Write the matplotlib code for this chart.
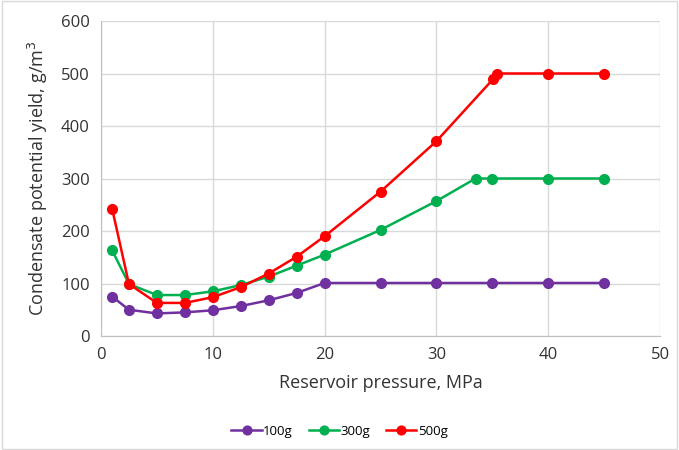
import numpy as np
import matplotlib
matplotlib.use("Agg")
import matplotlib.pyplot as plt

plt.rcParams['font.family'] = ['Open Sans', 'DejaVu Sans']

# data
x_100 = [1, 2.5, 5, 7.5, 10, 12.5, 15, 17.5, 20, 25, 30, 35, 40, 45]
y_100 = [75, 50, 43, 45, 49, 57, 68, 82, 101, 101, 101, 101, 101, 101]

x_300 = [1, 2.5, 5, 7.5, 10, 12.5, 15, 17.5, 20, 25, 30, 33.5, 35, 40, 45]
y_300 = [163, 99, 78, 78, 85, 97, 113, 134, 155, 202, 257, 300, 300, 300, 300]

x_500 = [1, 2.5, 5, 7.5, 10, 12.5, 15, 17.5, 20, 25, 30, 35.1, 35.4, 40, 45]
y_500 = [242, 99, 63, 63, 74, 93, 119, 151, 190, 275, 371, 490, 500, 500, 500]

fig = plt.figure(figsize=(6.79, 4.5), dpi=100)
ax = fig.add_axes([101 / 679, 1 - 336 / 450, 559 / 679, 315 / 450])

series = [
    (x_100, y_100, "#7030A0", "100g"),
    (x_300, y_300, "#00B050", "300g"),
    (x_500, y_500, "#FF0000", "500g"),
]
for xs, ys, c, lab in series:
    ax.plot(xs, ys, color=c, lw=1.8, marker="o", markersize=7, label=lab)

ax.set_xlim(0, 50)
ax.set_ylim(0, 600)
ax.set_xticks(np.arange(0, 51, 10))
ax.set_yticks(np.arange(0, 601, 100))
ax.grid(True, color="#d9d9d9", lw=1)
ax.set_axisbelow(True)
for s in ["top", "right"]:
    ax.spines[s].set_visible(False)
for s in ["left", "bottom"]:
    ax.spines[s].set_color("#bfbfbf")
ax.tick_params(length=0, labelsize=12, colors="#333333", pad=8)
ax.set_xlabel("Reservoir pressure, MPa", fontsize=13, color="#333333", labelpad=8)
ax.set_ylabel("Condensate potential yield, g/m$^3$", fontsize=13, color="#333333", labelpad=8)

fig.legend(loc="center", bbox_to_anchor=(0.5, 1 - 431 / 450), ncol=3, frameon=False,
           fontsize=9.5, handlelength=2.3, columnspacing=1.2, handletextpad=0.1,
           markerscale=0.9)

# light frame round the whole chart
fig.patches.append(plt.Rectangle((0.003, 0.003), 0.994, 0.994, transform=fig.transFigure,
                                 fill=False, edgecolor="#d9d9d9", lw=1))

fig.savefig("out.png", dpi=100)
